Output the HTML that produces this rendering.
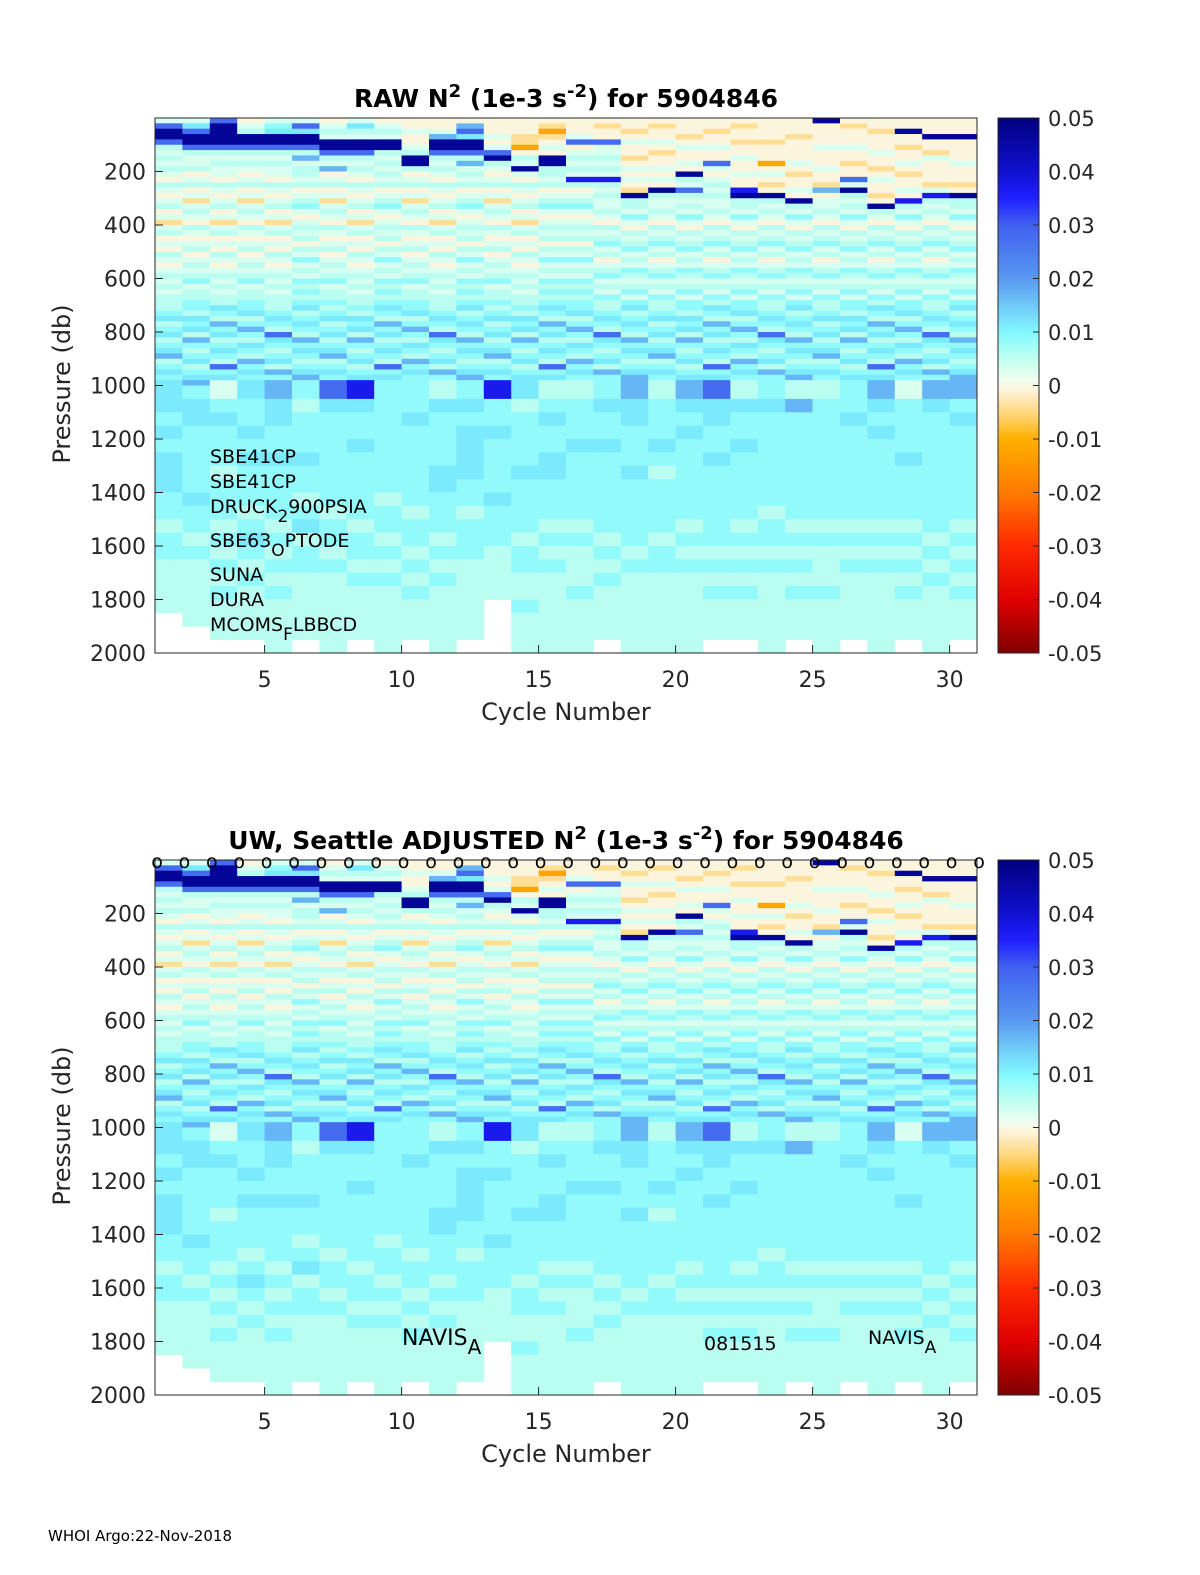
<!DOCTYPE html>
<html><head><meta charset="utf-8"><style>
html,body{margin:0;padding:0;background:#fff;}
svg{display:block;font-family:"DejaVu Sans","Liberation Sans",sans-serif;}
</style></head><body>
<svg id="fig" width="1200" height="1575" viewBox="0 0 1200 1575" xmlns="http://www.w3.org/2000/svg">
<defs>
<linearGradient id="cmap" x1="0" y1="1" x2="0" y2="0"></linearGradient>
</defs>
<text x="48" y="1541" font-size="15">WHOI Argo:22-Nov-2018</text>
</svg>
<script>
// ---- data ----
const cycles = [1,2,3,4,5,6,7,8,9,10,11,12,13,14,15,16,17,18,19,20,21,22,23,24,25,26,27,28,29,30];
// level codes -> N2 value
const codeKeys = ['o','y','w','p','c','C','k','b','B','D','N'];
const codeVals = [-0.012,-0.004,-0.0005,0.003,0.0055,0.0085,0.0115,0.017,0.028,0.037,0.047];
// upper profile 0-1000 db, 20 db bins (50 per cycle)
const upperCols = [
 "pBNNBcpcpc"+"pwcpwpcwpypcwpwcpwpcpcpcc"+"cCkcCkcCkbcCkC"+"k",
 "pkBNNBcppc"+"wpcwpypcpwcpwpcwpcpcCpccC"+"CckCkcbCcCkcCk"+"b",
 "BNNNNBcpcp"+"pwcpwpcwpypcwpwcpwpcpcpcc"+"kCcbCkcCkCcBCk"+"p",
 "wpcNNBcpcp"+"wpcwpypcpwcpwpcwpcpcCpccC"+"CkcCbCckCcbCkC"+"k",
 "pCkNNBcpcp"+"pwcpwpcwpypcwpwcpwpcpcpcc"+"cCkCcBkCcCkcbC"+"b",
 "pBkNNBcbpc"+"cpcwpcCpwpcpcwcpCpcpCcCcC"+"kcCkCcbCkCcCkb"+"C",
 "wpcpNNBcpb"+"wpcwpypcpwcpwpcwpcpcCpccC"+"cCkcCkcCkbcCkC"+"B",
 "pkcpNNBcpc"+"pwcpwpcwpypcwpwcpwpcpcpcc"+"CckCkcbCcCkcCk"+"D",
 "wpcpNNcpcp"+"cpcwpcCpwpcpcwcpCpcpCcCcC"+"kCcbCkcCkCcBCk"+"C",
 "wwpwwpcNNc"+"wpcwpypcpwcpwpcwpcpcCpccC"+"CkcCbCckCcbCkC"+"C",
 "wwpbNNBcpc"+"pwcpwpcwpypcwpwcpwpcpcpcc"+"cCkCcBkCcCkcbC"+"c",
 "wbBkNNBcbp"+"cpcwpcCpwpcpcwcpCpcpCcCcC"+"kcCkCcbCkCcCkb"+"C",
 "wwwpwpBNcp"+"wpcwpypcpwcpwpcwpcpcCpccC"+"cCkcCkcCkbcCkC"+"D",
 "wwwyyowcpN"+"pwcpwpcwpypcwpwcpwpcpcpcc"+"CckCkcbCcCkcCk"+"k",
 "wyoywpwNNc"+"cpcwpcCpwpcpcwcpCpcpCcCcC"+"kCcbCkcCkCcBCk"+"c",
 "wwwpBwpcpc"+"pDcwpcCpwpcpcwcpCpcpCcCcC"+"CkcCbCckCcbCkC"+"c",
 "wywwBppcpcpDcpcp"+"pcpwcpcCpcwpcCpcpCc"+"cCkCcBkCcCkcbC"+"C",
 "wwywpwwywpwpwyNc"+"cpCpwcpcCpcpCcpcCpC"+"kcCkCcbCkCcCkb"+"b",
 "wywwpwywwpwpwNcp"+"pcpwcpcCpcwpcCpcpCc"+"cCkcCkcCkbcCkC"+"c",
 "wwwywpwwpwNcpBcp"+"cpCpwcpcCpcpCcpcCpC"+"CckCkcbCcCkcCk"+"b",
 "wwywwpwwBpwpcpcp"+"pcpwcpcCpcwpcCpcpCc"+"kCcbCkcCkCcBCk"+"B",
 "wywwywwpwwpwwDNc"+"cpCpwcpcCpcpCcpcCpC"+"CkcCbCckCcbCkC"+"c",
 "wwwwywwwowpwywNc"+"pcpwcpcCpcwpcCpcpCc"+"cCkCcBkCcCkcbC"+"C",
 "wwwywwwwpwywwpwN"+"cpCpwcpcCpcpCcpcCpC"+"kcCkCcbCkCcCkb"+"c",
 "Nwwwwpwwwpwwybwp"+"pcpwcpcCpcwpcCpcpCc"+"cCkcCkcCkbcCkC"+"c",
 "wywwwpwwywwBpNcp"+"cpCpwcpcCpcpCcpcCpC"+"CckCkcbCcCkcCk"+"C",
 "wwywwwpwwywpwwyw"+"NcpwcpcCpcwpcCpcpCc"+"kCcbCkcCkCcBCk"+"b",
 "wwNwwywwpwywwpwD"+"cpCpwcpcCpcpCcpcCpC"+"CkcCbCckCcbCkC"+"p",
 "wwwNwwypwwwwypDc"+"pcpwcpcCpcwpcCpcpCc"+"cCkCcBkCcCkcbC"+"b",
 "wwwNwwwwpwwwywNc"+"cpCpwcpcCpcpCcpcCpC"+"kcCkCcbCkCcCkb"+"b"
];
// deep profile 1000-2000 db, 50 db bins (20 per cycle), '.' = no data
const deepCols = [
 "kkCkCkkkCCcCCcccc...","CkkCCCCCkCCcCccccc..","pCkCCCcCCCcCcCcCccc.","kCCkCkCCCcCkCcCcccc.",
 "bkkCCkCCCCcCcCcCcccc","CcCCCkCCcCkcCCccccc.","BkCCCCCCCcCCcCcccccc","DkCCkCCCCCcCCcCcccc.",
 "CCCCCCCCcCCcCcCccccc","CCkCCCCCCcCCcCcCccc.","ckCCCCkkCCCcCcCccccc","CkCkkkkCCcCCCcccccc.",
 "DCCkCCCCkCCCcccc....","kcCCCCkCCCCcCCccCccc","cCkCCkkCCCcCcCcccccc","cCCCkCCCCCcCcccCcccc",
 "CkCCkCCCCCCcCcCcccc.","bkkCCCkCCCCCcCcccccc","cCCCkCcCCCCcCCcccccc","bkCkCCCCCCcCcCcccccc",
 "BkkCCkCCCCCCcCcCccc.","ckCCkCCCCCcCcCcCccc.","CkCCCCCCCcCCcCcccccc","cbCCCCCCCCcCcCcCccc.",
 "cCCCCCCCCCcCcccCcccc","CCkCCCCCCCcCcCccccc.","bkCkCCCCCCcCcCcccccc","pCCCCkCCCCcCcCcCccc.",
 "bkCCCCCCCCCcCcCccccc","bCkCCCCCCCcCcCcCccc."
];
const yTicks = [200,400,600,800,1000,1200,1400,1600,1800,2000];
const xTicks = [5,10,15,20,25,30];
const cbTicks = [0.05,0.04,0.03,0.02,0.01,0,-0.01,-0.02,-0.03,-0.04,-0.05];
const cbLabels = ["0.05","0.04","0.03","0.02","0.01","0","-0.01","-0.02","-0.03","-0.04","-0.05"];
const markerCycles = [1,2,3,4,5,6,7,8,9,10,11,12,13,14,15,16,17,18,19,20,21,22,23,24,25,26,27,28,29,30,31];
const cmapStops = [[-0.05,'#800000'],[-0.04,'#e00000'],[-0.03,'#ff2a00'],[-0.02,'#ff7a00'],[-0.01,'#ffb000'],[-0.005,'#ffd880'],[-0.001,'#fff2d8'],[0.001,'#f0fff0'],[0.005,'#c0fff0'],[0.01,'#80f8ff'],[0.015,'#70c8f8'],[0.02,'#5898f0'],[0.03,'#4060f0'],[0.035,'#2020ff'],[0.04,'#1010d0'],[0.05,'#000080']];

// ---- helpers ----
const NS='http://www.w3.org/2000/svg';
const svg=document.getElementById('fig');
function mk(tag,parent){const e=document.createElementNS(NS,tag);(parent||svg).appendChild(e);return e;}
function hex(h){return [parseInt(h.substr(1,2),16),parseInt(h.substr(3,2),16),parseInt(h.substr(5,2),16)];}
function color(v){
  if(v<=cmapStops[0][0])return cmapStops[0][1];
  for(let i=1;i<cmapStops.length;i++){
    if(v<=cmapStops[i][0]){const a=cmapStops[i-1],b=cmapStops[i];const t=(v-a[0])/(b[0]-a[0]);
      const A=hex(a[1]),B=hex(b[1]);return 'rgb('+A.map((x,k)=>Math.round(x+(B[k]-x)*t)).join(',')+')';}
  }
  return cmapStops[cmapStops.length-1][1];
}
function codeVal(ch){const i=codeKeys.indexOf(ch);return i<0?null:codeVals[i];}
const grad=document.getElementById('cmap');
cmapStops.forEach(s=>{const st=document.createElementNS(NS,'stop');st.setAttribute('offset',((s[0]+0.05)/0.1*100)+'%');st.setAttribute('stop-color',s[1]);grad.appendChild(st);});

const AX={x0:155,x1:977};
function xs(c){return AX.x0+(c-1)/30*(AX.x1-AX.x0);}

function drawPanel(top,titleParts,name,withMarkers){
  const bot=top+535;
  const ys=p=>top+p/2000*(bot-top);
  const g=mk('g');
  
  
  const cells=mk('g',g);
  
  
  cycles.forEach((c,ci)=>{
    const x=xs(c),w=xs(c+1)-x;
    const up=upperCols[ci];
    for(let r=0;r<50;r++){
      const v=codeVal(up[r]||'p');if(v===null)continue;
      const y=ys(r*20),h=ys((r+1)*20)-y;
      const rc=mk('rect',cells);
      
      
      rc.setAttribute('x',x.toFixed(2));rc.setAttribute('y',y.toFixed(2));
      rc.setAttribute('width',(w+0.4).toFixed(2));rc.setAttribute('height',(h+0.4).toFixed(2));
      rc.setAttribute('fill',color(v));
    }
    const dp=deepCols[ci];
    for(let r=0;r<20;r++){
      const v=codeVal(dp[r]);if(v===null)continue;
      const y=ys(1000+r*50),h=ys(1000+(r+1)*50)-y;
      const rc=mk('rect',cells);
      
      
      rc.setAttribute('x',x.toFixed(2));rc.setAttribute('y',y.toFixed(2));
      rc.setAttribute('width',(w+0.4).toFixed(2));rc.setAttribute('height',(h+0.4).toFixed(2));
      rc.setAttribute('fill',color(v));
    }
  });
  const box=mk('rect',g);
  
  
  box.setAttribute('x',AX.x0);box.setAttribute('y',top);box.setAttribute('width',AX.x1-AX.x0);box.setAttribute('height',bot-top);
  box.setAttribute('fill','none');box.setAttribute('stroke','#262626');box.setAttribute('stroke-width','1');
  yTicks.forEach(t=>{
    const y=ys(t);
    const l=mk('line',g);
    
    
    l.setAttribute('x1',AX.x0);l.setAttribute('x2',AX.x0+8);l.setAttribute('y1',y);l.setAttribute('y2',y);l.setAttribute('stroke','#262626');
    const tx=mk('text',g);
    
    
    tx.setAttribute('x',146);tx.setAttribute('y',y+8);tx.setAttribute('text-anchor','end');tx.setAttribute('font-size','22');tx.setAttribute('fill','#262626');
    tx.textContent=t;
  });
  xTicks.forEach(t=>{
    const x=xs(t);
    const l=mk('line',g);
    
    
    l.setAttribute('x1',x);l.setAttribute('x2',x);l.setAttribute('y1',bot);l.setAttribute('y2',bot-8);l.setAttribute('stroke','#262626');
    const tx=mk('text',g);
    
    
    tx.setAttribute('x',x);tx.setAttribute('y',bot+34);tx.setAttribute('text-anchor','middle');tx.setAttribute('font-size','22');tx.setAttribute('fill','#262626');
    tx.textContent=t;
  });
  const xl=mk('text',g);
  
  
  xl.setAttribute('x',566);xl.setAttribute('y',bot+67);xl.setAttribute('text-anchor','middle');xl.setAttribute('font-size','24');xl.setAttribute('fill','#262626');
  xl.textContent='Cycle Number';
  const yl=mk('text',g);
  
  
  yl.setAttribute('transform','translate(70,'+(top+266)+') rotate(-90)');yl.setAttribute('text-anchor','middle');yl.setAttribute('font-size','24');yl.setAttribute('fill','#262626');
  yl.textContent='Pressure (db)';
  const tt=mk('text',g);
  
  
  tt.setAttribute('x',566);tt.setAttribute('y',top-11);tt.setAttribute('text-anchor','middle');tt.setAttribute('font-size','25');tt.setAttribute('font-weight','bold');tt.setAttribute('fill','#000');
  tt.innerHTML=titleParts;
  const cb=mk('rect',g);
  
  
  cb.setAttribute('x',998);cb.setAttribute('y',top);cb.setAttribute('width',41);cb.setAttribute('height',bot-top);
  cb.setAttribute('fill','url(#cmap)');cb.setAttribute('stroke','#262626');
  cbTicks.forEach((t,i)=>{
    const y=top+(0.05-t)/0.1*(bot-top);
    const l=mk('line',g);
    
    
    l.setAttribute('x1',1033);l.setAttribute('x2',1039);l.setAttribute('y1',y);l.setAttribute('y2',y);l.setAttribute('stroke','#262626');
    const tx=mk('text',g);
    
    
    tx.setAttribute('x',1048);tx.setAttribute('y',y+8);tx.setAttribute('font-size','21');tx.setAttribute('fill','#262626');
    tx.textContent=cbLabels[i];
  });
  if(withMarkers){
    markerCycles.forEach(c=>{
      const tx=mk('text',g);
      
      
      tx.setAttribute('x',xs(c)+2);tx.setAttribute('y',top+8);tx.setAttribute('text-anchor','middle');tx.setAttribute('font-size','19');tx.setAttribute('fill','#000');
      tx.textContent='o';
    });
  }
  return g;
}
const sup='<tspan dy="-10" font-size="18">2</tspan><tspan dy="10"> (1e-3 s</tspan><tspan dy="-10" font-size="18">-2</tspan><tspan dy="10">) for 5904846</tspan>';
drawPanel(118,'RAW N'+sup,'raw-n2-panel',false);
drawPanel(860,'UW, Seattle  ADJUSTED N'+sup,'adjusted-n2-panel',true);

function ann(x,y,main,sub,after,fs,name){
  const t=mk('text');
  
  
  t.setAttribute('x',x);t.setAttribute('y',y);t.setAttribute('font-size',fs);t.setAttribute('fill','#000');
  t.innerHTML=main+(sub?'<tspan dy="9" font-size="'+(fs-2)+'">'+sub+'</tspan><tspan dy="-9">'+after+'</tspan>':'');
}
ann(210,463,'SBE41CP','','',19,'sensor-label-ctd');
ann(210,488,'SBE41CP','','',19,'sensor-label-ctd-2');
ann(210,513,'DRUCK','2','900PSIA',19,'sensor-label-pressure');
ann(210,547,'SBE63','O','PTODE',19,'sensor-label-optode');
ann(210,581,'SUNA','','',19,'sensor-label-suna');
ann(210,606,'DURA','','',19,'sensor-label-dura');
ann(210,631,'MCOMS','F','LBBCD',19,'sensor-label-mcoms');
ann(402,1345,'NAVIS','A','',22,'float-type-label');
ann(704,1350,'081515','','',19,'firmware-label');
ann(868,1344,'NAVIS','A','',19,'float-type-label-2');
</script>
</body></html>
